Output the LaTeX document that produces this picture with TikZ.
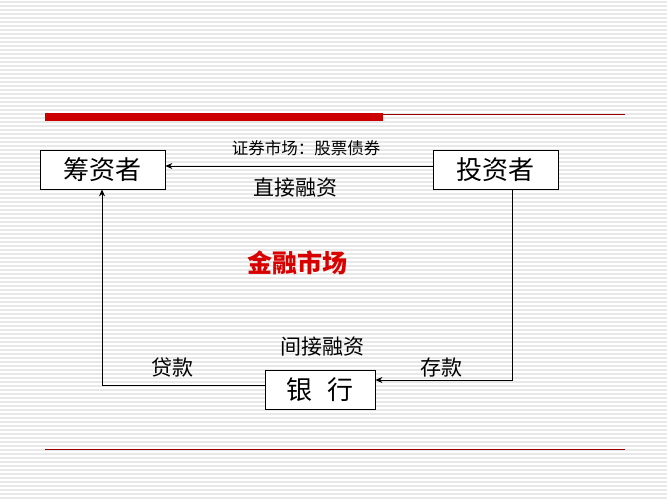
\documentclass[tikz,border=0pt]{standalone}
\usepackage{fontspec}
\newfontfamily\cjk{Noto Sans CJK SC}
\usetikzlibrary{positioning,arrows.meta}

\begin{document}
\begin{tikzpicture}[x=1pt,y=-1pt,
  party/.style={draw,thick,fill=white,minimum height=39pt,inner sep=1pt,font=\cjk\fontsize{26}{28}\selectfont},
  flow/.style={thick,-{Stealth[length=7pt,width=6pt]}},
  lbl/.style={font=\cjk\fontsize{21}{23}\selectfont}]
\useasboundingbox (0,0) rectangle (667,500);
\fill[white] (0,0) rectangle (667,500);
% stripes
\foreach \y in {2,6,...,498}
  \draw[gray!18,line width=1.2pt] (0,\y) -- (667,\y);
% red bars
\draw[red!60!black,line width=0.8pt] (45,114) -- (625,114);
\fill[red!80!black] (45,113) rectangle (383,121);
\draw[red!60!black,line width=0.8pt] (45,449) -- (625,449);
% boxes
\node[party,minimum width=125pt] (fund) at (102.5,169.5) {筹资者};
\node[party,minimum width=125pt] (inv) at (495.5,169.5) {投资者};
\node[party,minimum width=110pt] (bank) at (320,389.5) {银\hspace{0.6em}行};
\coordinate (c1) at (512,380);
\coordinate (c2) at (102,385);
% connectors
\draw[flow] (inv.west|-0,166) -- (fund.east|-0,166);
\draw[flow] (inv.south-|c1) -- (c1) -- (bank.east|-c1);
\draw[flow] (bank.west|-c2) -- (c2) -- (fund.south-|c2);
% labels
\node[font=\cjk\fontsize{16.5}{18}\selectfont] (mkt) at (306,148) {证券市场：股票债券};
\node[lbl] (direct) at (295,188) {直接融资};
\node[font=\cjk\bfseries\fontsize{25}{27}\selectfont,text=red!85!black] (fin) at (297,263) {金融市场};
\node[lbl] (indirect) at (322,347) {间接融资};
\node[lbl] (dep) at (441,368) {存款};
\node[lbl] (loan) at (172,368) {贷款};
\end{tikzpicture}
\end{document}
